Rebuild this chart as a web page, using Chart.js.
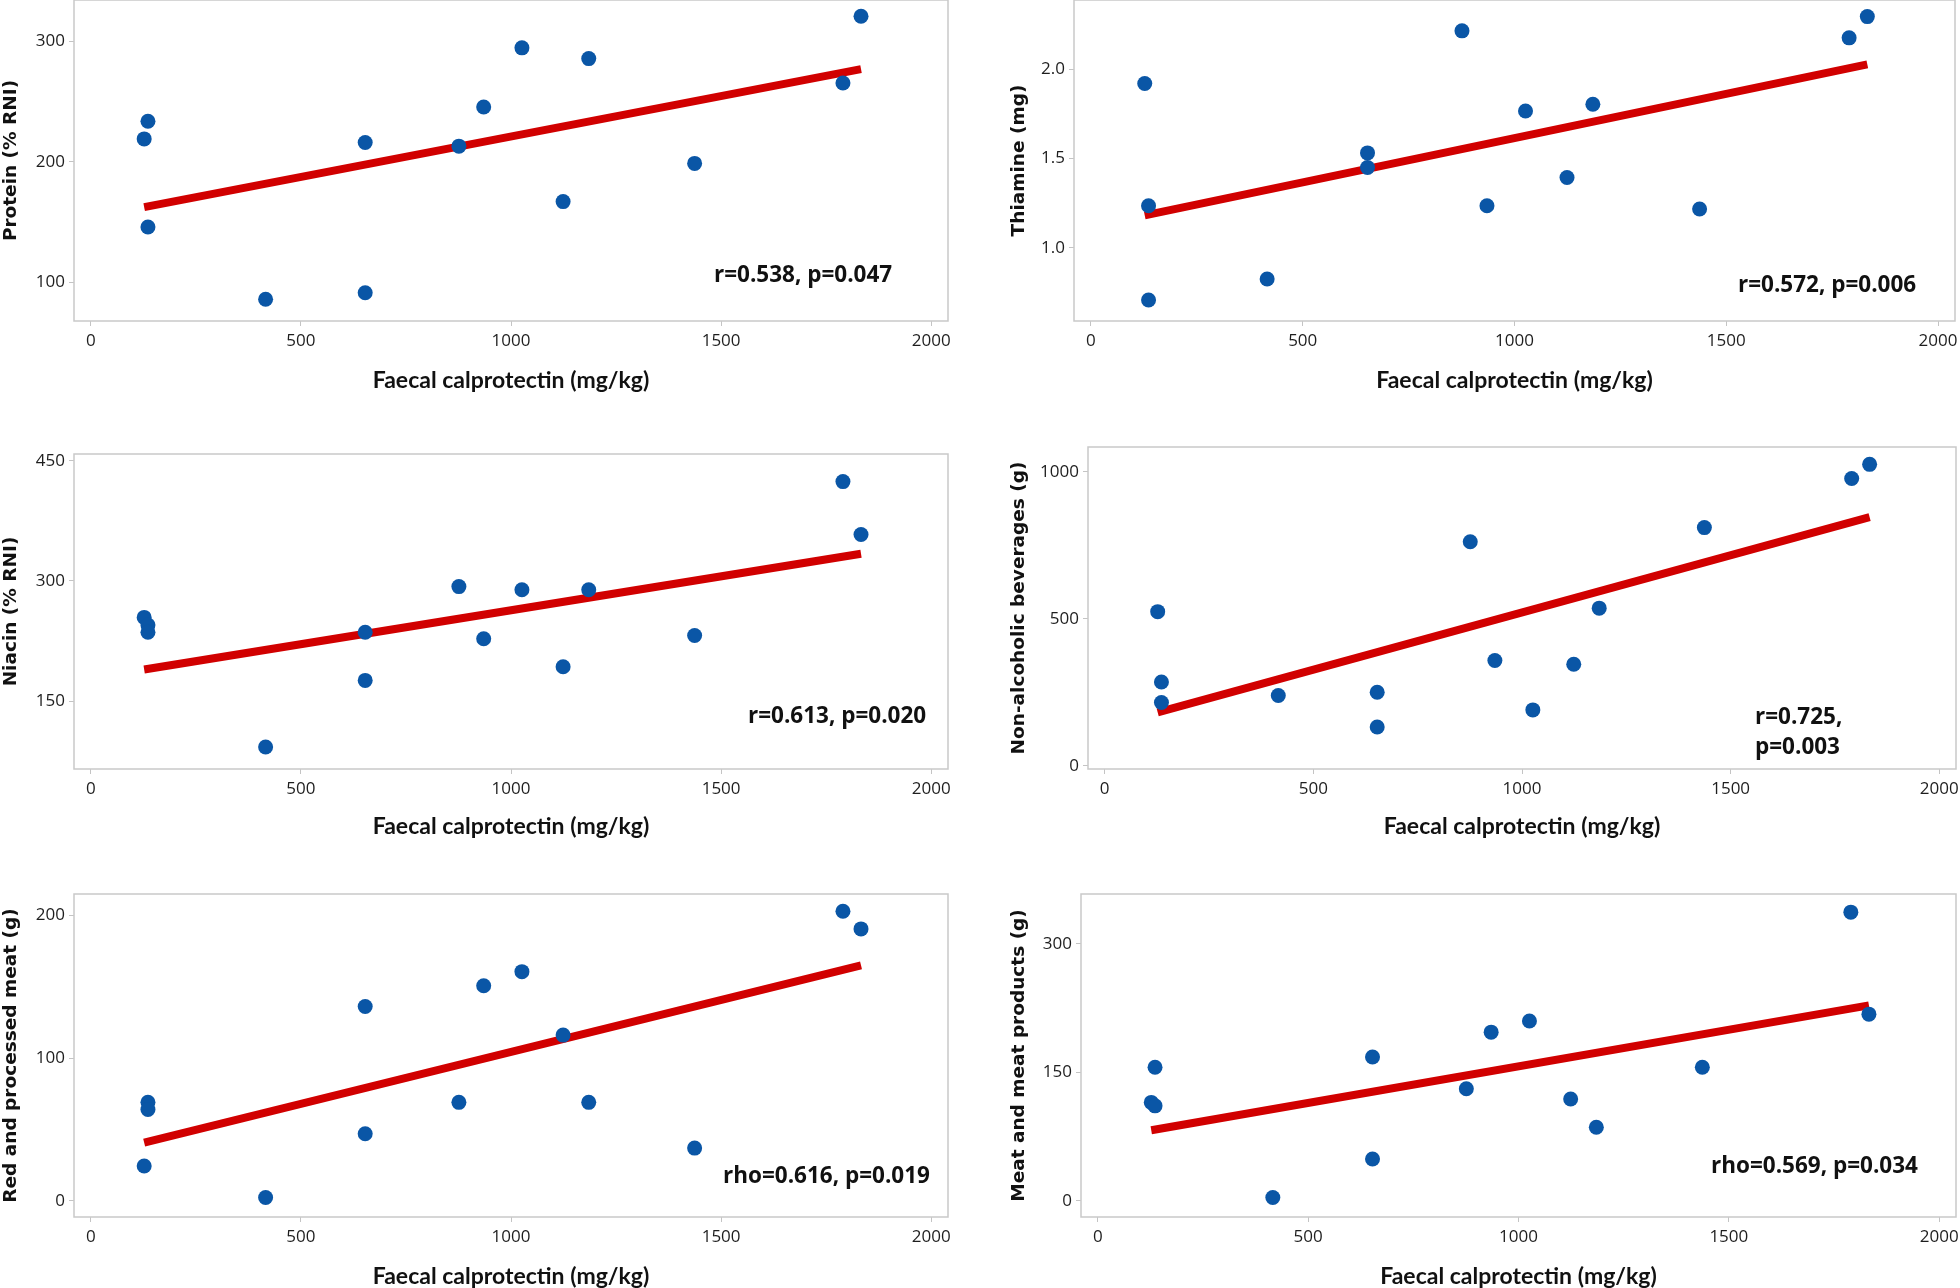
<!DOCTYPE html>
<html><head><meta charset="utf-8">
<script src="https://cdn.jsdelivr.net/npm/chart.js@4.4.1/dist/chart.umd.min.js"></script>
<style>
html,body{margin:0;padding:0;background:#fff;overflow:hidden;width:1960px;height:1288px;}
canvas{position:absolute;display:block;}
</style></head><body>
<canvas id="c1"></canvas><canvas id="c2"></canvas><canvas id="c3"></canvas>
<canvas id="c4"></canvas><canvas id="c5"></canvas><canvas id="c6"></canvas>
<script>
// ---- data ----
const calprotectin = [127, 136, 136, 416, 653, 653, 876, 935, 1026, 1124, 1185, 1437, 1790, 1833];
const protein      = [219, 233.6, 146, 86, 216, 91.4, 213, 245.5, 294.5, 167, 285.6, 198.7, 265.4, 320.7];
const thiamine     = [1.92, 1.235, 0.707, 0.824, 1.531, 1.449, 2.215, 1.235, 1.766, 1.393, 1.804, 1.217, 2.176, 2.295];
const niacin       = [254.6, 245, 236, 93, 236, 176, 293, 228, 289, 193, 289, 232, 424, 358];
const beverages    = [524, 285, 215, 239, 250, 132, 762, 358, 190, 345, 536, 810, 977, 1025];
const redMeat      = [24.5, 69, 64, 2.4, 136, 47, 69, 150.5, 160.4, 116, 69, 37, 202.6, 190.3];
const meatProducts = [115, 156, 111, 4, 168, 49, 131, 197, 210, 119, 86, 156, 337, 218];

const xTicks            = [0, 500, 1000, 1500, 2000];
const proteinTicks      = [100, 200, 300];
const thiamineTicks     = [1.0, 1.5, 2.0];
const niacinTicks       = [150, 300, 450];
const beveragesTicks    = [0, 500, 1000];
const redMeatTicks      = [0, 100, 200];
const meatProductsTicks = [0, 150, 300];

const xTitle = 'Faecal calprotectin (mg/kg)';
const yTitles = ['Protein (% RNI)', 'Thiamine (mg)', 'Niacin (% RNI)', 'Non-alcoholic beverages (g)', 'Red and processed meat (g)', 'Meat and meat products (g)'];
const stats = [['r=0.538, p=0.047'], ['r=0.572, p=0.006'], ['r=0.613, p=0.020'], ['r=0.725,', 'p=0.003'], ['rho=0.616, p=0.019'], ['rho=0.569, p=0.034']];

// ---- panel layout / styling ----
const panels = [
  {id:'c1', y:protein,      ticks:proteinTicks,      dec:0, min:68,    max:334.2, box:[0,0,960,394],      pad:{left:0,right:12,top:0,bottom:0},  yw:74, xh:73, stat:[640,276]},
  {id:'c2', y:thiamine,     ticks:thiamineTicks,     dec:1, min:0.589, max:2.388, box:[1008,0,952,394],   pad:{left:0,right:5,top:0,bottom:0},   yw:66, xh:73, stat:[664,286]},
  {id:'c3', y:niacin,       ticks:niacinTicks,       dec:0, min:65.5,  max:458.4, box:[0,440,960,400],    pad:{left:0,right:12,top:14,bottom:0}, yw:74, xh:71, stat:[674,263]},
  {id:'c4', y:beverages,    ticks:beveragesTicks,    dec:0, min:-11,   max:1084,  box:[1008,440,952,400], pad:{left:0,right:4,top:7,bottom:0},   yw:80, xh:71, stat:[667,271]},
  {id:'c5', y:redMeat,      ticks:redMeatTicks,      dec:0, min:-11.2, max:214.7, box:[0,880,960,410],    pad:{left:0,right:12,top:14,bottom:0}, yw:74, xh:73, stat:[649,283]},
  {id:'c6', y:meatProducts, ticks:meatProductsTicks, dec:0, min:-18.7, max:358.2, box:[1008,880,952,410], pad:{left:0,right:4,top:14,bottom:0}, yw:73, xh:73, stat:[630,273]}
];

function fitLine(xs, ys) {
  const n = xs.length;
  const mx = xs.reduce((a,b)=>a+b,0)/n, my = ys.reduce((a,b)=>a+b,0)/n;
  let sxy = 0, sxx = 0;
  for (let i=0;i<n;i++){ sxy += (xs[i]-mx)*(ys[i]-my); sxx += (xs[i]-mx)*(xs[i]-mx); }
  const b = sxy/sxx, a = my - b*mx;
  const x0 = Math.min(...xs), x1 = Math.max(...xs);
  return [{x:x0, y:a+b*x0}, {x:x1, y:a+b*x1}];
}

const framePlugin = {
  id:'frame',
  beforeDatasetsDraw(chart){
    const {ctx, chartArea:{left,top,right,bottom}} = chart;
    ctx.save(); ctx.strokeStyle='#c9c9c9'; ctx.lineWidth=1.5;
    ctx.strokeRect(left, top, right-left, bottom-top); ctx.restore();
  }
};
const statPlugin = {
  id:'stat',
  afterDatasetsDraw(chart, args, opts){
    const {ctx, chartArea:{left,top}} = chart;
    ctx.save(); ctx.font='bold 22.5px "Open Sans"'; ctx.fillStyle='#111';
    ctx.textAlign='left'; ctx.textBaseline='middle';
    opts.lines.forEach((t,i)=>ctx.fillText(t, left+opts.dx, top+opts.dy+i*30));
    ctx.restore();
  }
};

const tickFont = {family:'"Open Sans"', size:17};

panels.forEach((p, k) => {
  const cv = document.getElementById(p.id);
  cv.width = p.box[2]; cv.height = p.box[3];
  cv.style.left = p.box[0]+'px'; cv.style.top = p.box[1]+'px';
  cv.style.width = p.box[2]+'px'; cv.style.height = p.box[3]+'px';
  const pts = calprotectin.map((x,i)=>({x, y:p.y[i]}));
  new Chart(cv, {
    data:{datasets:[
      {type:'scatter', data:pts, backgroundColor:'#0a56a6', borderWidth:0, pointRadius:7.5, pointHoverRadius:7.5, order:0},
      {type:'line', data:fitLine(calprotectin, p.y), borderColor:'#d10000', borderWidth:8, pointRadius:0, fill:false, order:1}
    ]},
    options:{
      responsive:false, animation:false, devicePixelRatio:1,
      layout:{padding:p.pad, autoPadding:false},
      plugins:{legend:{display:false}, tooltip:{enabled:false}, stat:{lines:stats[k], dx:p.stat[0], dy:p.stat[1]}},
      scales:{
        x:{type:'linear', position:'bottom', min:-40, max:2040,
           afterBuildTicks:s=>{s.ticks = xTicks.map(v=>({value:v}));},
           afterFit:s=>{s.height=p.xh; s.paddingLeft=0; s.paddingRight=0;},
           ticks:{font:tickFont, color:'#1e1e1e', padding:5, maxRotation:0, autoSkip:false, callback:v=>String(v)},
           grid:{drawOnChartArea:false, drawTicks:true, tickLength:5, color:'#c4c4c4', lineWidth:1},
           border:{display:false},
           title:{display:true, text:xTitle, font:{family:'Lato', weight:'bold', size:23, lineHeight:1.2}, color:'#111', padding:0}},
        y:{type:'linear', position:'left', min:p.min, max:p.max,
           afterBuildTicks:s=>{s.ticks = p.ticks.map(v=>({value:v}));},
           afterFit:s=>{s.width=p.yw; s.paddingTop=0; s.paddingBottom=0;},
           ticks:{font:tickFont, color:'#1e1e1e', padding:4, autoSkip:false, callback:v=>Number(v).toFixed(p.dec)},
           grid:{drawOnChartArea:false, drawTicks:true, tickLength:5, color:'#c4c4c4', lineWidth:1},
           border:{display:false},
           title:{display:true, text:yTitles[k], font:{family:'"DejaVu Sans"', weight:'bold', size:18.5, lineHeight:1.2}, color:'#111', padding:0}}
      }
    },
    plugins:[framePlugin, statPlugin]
  });
});
</script>
</body></html>
